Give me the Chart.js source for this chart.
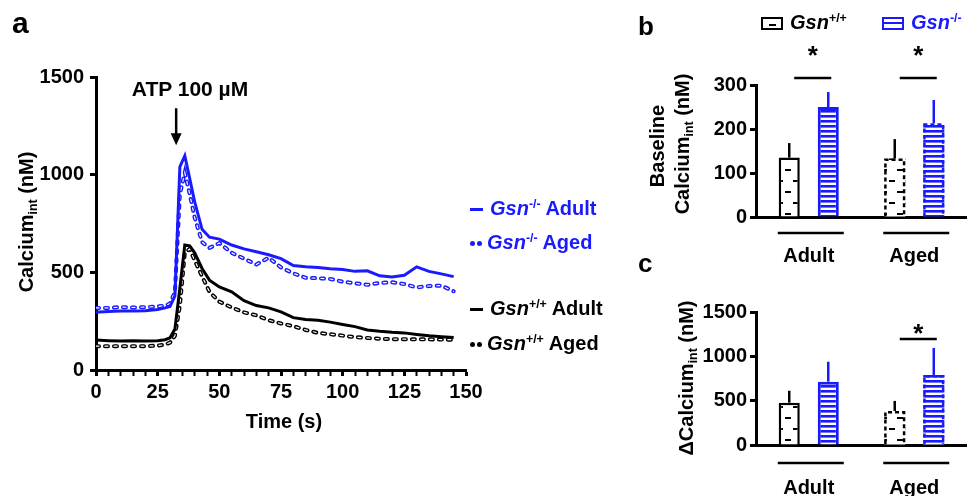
<!DOCTYPE html>
<html>
<head>
<meta charset="utf-8">
<script src="https://cdn.jsdelivr.net/npm/chart.js@4.4.0/dist/chart.umd.min.js"></script>
<style>
  body { margin: 0; width: 967px; height: 496px; background: #fff; position: relative; overflow: hidden;
         font-family: "Liberation Sans", Arial, sans-serif; font-weight: bold; color: #000; }
  canvas { position: absolute; }
  .t { position: absolute; white-space: nowrap; font-size: 20px; line-height: 1; }
  .c { transform: translate(-50%, -50%); }
  .v { transform: translate(0, -50%); }
  .rot { transform: translate(-50%, -50%) rotate(-90deg); }
  sub { font-size: 0.62em; vertical-align: -0.3em; line-height: 0; }
  sup { font-size: 0.62em; vertical-align: 0.6em; line-height: 0; }
  .blue { color: #1a1aff; }
  .ln { display: inline-block; width: 13px; height: 3px; vertical-align: middle; margin-right: 7px; }
  .dt { display: inline-block; width: 5px; height: 5px; border-radius: 50%; vertical-align: middle; margin-right: 2px; }
  .box { display: inline-block; box-sizing: border-box; width: 22px; height: 13px; vertical-align: middle; margin-right: 7px; }
</style>
</head>
<body>
<canvas id="ca" width="490" height="440" style="left:0;top:0"></canvas>
<canvas id="cb" width="327" height="270" style="left:640px;top:0"></canvas>
<canvas id="cc" width="327" height="226" style="left:640px;top:270px"></canvas>

<div class="t" style="left:12px;top:8px;font-size:30px">a</div>
<div class="t" style="left:638px;top:13px;font-size:26px">b</div>
<div class="t" style="left:638px;top:250px;font-size:26px">c</div>

<div class="t c" style="left:190px;top:88px;font-size:21px">ATP 100 µM</div>
<div class="t c" style="left:284px;top:421px">Time (s)</div>
<div class="t rot" style="left:26px;top:222px">Calcium<sub>int</sub> (nM)</div>

<div class="t v blue" style="left:470px;top:208px"><span class="ln" style="background:#1a1aff"></span><i>Gsn</i><sup>-/-</sup> Adult</div>
<div class="t v blue" style="left:470px;top:242px"><span class="dt" style="background:#1a1aff"></span><span class="dt" style="background:#1a1aff;margin-right:5px"></span><i>Gsn</i><sup>-/-</sup> Aged</div>
<div class="t v" style="left:470px;top:308px"><span class="ln" style="background:#000"></span><i>Gsn</i><sup>+/+</sup> Adult</div>
<div class="t v" style="left:470px;top:343px"><span class="dt" style="background:#000"></span><span class="dt" style="background:#000;margin-right:5px"></span><i>Gsn</i><sup>+/+</sup> Aged</div>

<div class="t v" style="left:761px;top:22px"><span class="box" style="border:2px solid #000;background:linear-gradient(#fff 0 5px,#000 5px 7px,#fff 7px) 6px 0/7px 100% no-repeat"></span><i>Gsn</i><sup>+/+</sup></div>
<div class="t v blue" style="left:882px;top:22px"><span class="box" style="border:2.5px solid #1a1aff;background:linear-gradient(#fff 0 3px,#1a1aff 3px 5.5px,#fff 5.5px)"></span><i>Gsn</i><sup>-/-</sup></div>

<div class="t rot" style="left:657px;top:146px">Baseline</div>
<div class="t rot" style="left:682px;top:144px">Calcium<sub>int</sub> (nM)</div>
<div class="t rot" style="left:686px;top:378px">ΔCalcium<sub>int</sub> (nM)</div>

<script>
// panel a: time course (s) and calcium (nM)
const times   = [0, 5, 10, 15, 20, 25, 28, 30, 32, 34, 36, 38, 40, 43, 46, 50, 55, 60, 65, 70, 75, 80, 85, 90, 95, 100, 105, 110, 115, 120, 125, 130, 135, 140, 145];
const koAdult = [296, 300, 302, 302, 303, 310, 318, 325, 380, 1040, 1097, 980, 860, 720, 680, 670, 640, 620, 605, 590, 570, 535, 528, 525, 518, 515, 505, 508, 482, 476, 485, 528, 505, 492, 478];
const koAged  = [318, 318, 322, 320, 322, 325, 330, 340, 400, 900, 1010, 900, 780, 655, 625, 650, 600, 570, 540, 575, 525, 495, 472, 470, 466, 452, 444, 436, 446, 449, 440, 423, 430, 432, 403];
const wtAdult = [153, 150, 148, 150, 148, 150, 155, 165, 210, 420, 640, 635, 600, 520, 460, 425, 400, 355, 330, 318, 298, 268, 258, 255, 245, 233, 222, 205, 198, 193, 190, 182, 175, 170, 166];
const wtAged  = [122, 122, 122, 122, 122, 125, 130, 140, 175, 330, 600, 620, 560, 480, 400, 350, 320, 295, 280, 255, 238, 224, 205, 190, 183, 176, 168, 164, 160, 158, 158, 157, 157, 156, 155];

// panels b and c: bar means and SEM
const groups      = ['Adult', 'Aged'];
const baseWt      = [135, 133];
const baseKo      = [250, 213];
const baseWtSem   = [33, 44];
const baseKoSem   = [34, 53];
const deltaWt     = [477, 384];
const deltaKo     = [714, 790];
const deltaWtSem  = [135, 113];
const deltaKoSem  = [225, 305];

const BLUE = '#1a1aff';
const FONT = { family: '"Liberation Sans", Arial, sans-serif', size: 20, weight: 'bold' };

const pts = arr => times.map((t, i) => ({ x: t, y: arr[i] }));

const arrowPlugin = {
  id: 'arrow',
  afterDraw(chart) {
    const { ctx, scales: { x, y } } = chart;
    const px = x.getPixelForValue(32.5);
    const y0 = y.getPixelForValue(1340), y1 = y.getPixelForValue(1150);
    ctx.save();
    ctx.strokeStyle = '#000'; ctx.fillStyle = '#000'; ctx.lineWidth = 2.5;
    ctx.beginPath(); ctx.moveTo(px, y0); ctx.lineTo(px, y1 - 10); ctx.stroke();
    ctx.beginPath(); ctx.moveTo(px - 5.5, y1 - 12); ctx.lineTo(px + 5.5, y1 - 12); ctx.lineTo(px, y1); ctx.closePath(); ctx.fill();
    ctx.restore();
  }
};

new Chart(document.getElementById('ca'), {
  type: 'line',
  data: {
    datasets: [
      { data: pts(koAdult), borderColor: BLUE, borderWidth: 3 },
      { data: pts(wtAdult), borderColor: '#000', borderWidth: 3 },
      { data: pts(koAged), borderColor: '#fff', borderWidth: 1.2, borderDash: [3, 6], borderCapStyle: 'round' },
      { data: pts(koAged), borderColor: BLUE, borderWidth: 4, borderDash: [3, 6], borderCapStyle: 'round' },
      { data: pts(wtAged), borderColor: '#fff', borderWidth: 1.2, borderDash: [3, 6], borderCapStyle: 'round' },
      { data: pts(wtAged), borderColor: '#000', borderWidth: 4, borderDash: [3, 6], borderCapStyle: 'round' }
    ]
  },
  options: {
    responsive: false, animation: false,
    layout: { padding: { top: 77, right: 24, left: 0, bottom: 0 } },
    plugins: { legend: { display: false }, tooltip: { enabled: false } },
    elements: { point: { radius: 0 }, line: { tension: 0 } },
    scales: {
      x: {
        type: 'linear', min: 0, max: 150,
        afterFit: s => { s.height = 70; },
        ticks: { stepSize: 5, autoSkip: false, maxRotation: 0, color: '#000', font: FONT, padding: 4,
                 callback: v => (v % 25 === 0 ? String(v) : '') },
        grid: { drawOnChartArea: false, tickLength: 6, tickColor: '#000',
                tickWidth: c => (c.tick && c.tick.value % 25 === 0 ? 3 : 2) },
        border: { width: 3, color: '#000' }
      },
      y: {
        min: 0, max: 1500,
        afterFit: s => { s.width = 96; },
        ticks: { stepSize: 500, color: '#000', font: FONT, padding: 6, callback: v => String(v) },
        grid: { drawOnChartArea: false, tickLength: 6, tickWidth: 3, tickColor: '#000' },
        border: { width: 3, color: '#000' }
      }
    }
  },
  plugins: [arrowPlugin]
});

function stripePattern() {
  const c = document.createElement('canvas'); c.width = 6; c.height = 5;
  const g = c.getContext('2d');
  g.fillStyle = '#fff'; g.fillRect(0, 0, 6, 5);
  g.fillStyle = BLUE; g.fillRect(0, 0, 6, 2.6);
  return g.createPattern(c, 'repeat');
}
function dashPattern() {
  const c = document.createElement('canvas'); c.width = 16; c.height = 22;
  const g = c.getContext('2d');
  g.fillStyle = '#fff'; g.fillRect(0, 0, 16, 22);
  g.fillStyle = '#000'; g.fillRect(9, 4, 6, 2); g.fillRect(1, 15, 6, 2);
  return g.createPattern(c, 'repeat');
}

const barExtras = {
  id: 'barExtras',
  afterDraw(chart, args, o) {
    const { ctx, chartArea: ca, scales: { x, y } } = chart;
    ctx.save();
    chart.data.datasets.forEach((ds, di) => {
      chart.getDatasetMeta(di).data.forEach((bar, i) => {
        ctx.strokeStyle = ds.borderColor;
        // error bar
        ctx.lineWidth = 2.5; ctx.setLineDash([]);
        ctx.beginPath(); ctx.moveTo(bar.x, bar.y);
        ctx.lineTo(bar.x, y.getPixelForValue(ds.data[i] + o.sem[di][i])); ctx.stroke();
        // dashed outline for aged bars
        if (i === 1) {
          const l = bar.x - bar.width / 2 + 1.2, r = bar.x + bar.width / 2 - 1.2;
          ctx.lineWidth = 2.5; ctx.setLineDash([4, 3]);
          ctx.beginPath(); ctx.moveTo(l, bar.base); ctx.lineTo(l, bar.y + 1.2); ctx.lineTo(r, bar.y + 1.2); ctx.lineTo(r, bar.base); ctx.stroke();
        }
      });
    });
    ctx.setLineDash([]);
    ctx.strokeStyle = '#000'; ctx.fillStyle = '#000'; ctx.lineWidth = 2.5;
    // group underlines
    groups.forEach((g, i) => {
      const cx = x.getPixelForValue(i) + 2;
      ctx.beginPath(); ctx.moveTo(cx - 33, ca.bottom + o.under); ctx.lineTo(cx + 33, ca.bottom + o.under); ctx.stroke();
    });
    // significance
    ctx.font = 'bold 26px "Liberation Sans", Arial, sans-serif';
    ctx.textAlign = 'center'; ctx.textBaseline = 'alphabetic';
    o.sig.forEach(s => {
      const a = chart.getDatasetMeta(0).data[s.i].x + 5, b = chart.getDatasetMeta(1).data[s.i].x + 3;
      const ly = y.getPixelForValue(s.line);
      ctx.beginPath(); ctx.moveTo(a, ly); ctx.lineTo(b, ly); ctx.stroke();
      ctx.fillText('*', (a + b) / 2, y.getPixelForValue(s.star) + 12);
    });
    ctx.restore();
  }
};

function barChart(id, wt, ko, wtSem, koSem, max, step, top, xh, under, pad, sig) {
  return new Chart(document.getElementById(id), {
    type: 'bar',
    data: {
      labels: groups,
      datasets: [
        { data: wt, backgroundColor: dashPattern(), borderColor: '#000', borderWidth: [2.5, 0], borderSkipped: 'start' },
        { data: ko, backgroundColor: stripePattern(), borderColor: BLUE, borderWidth: [3, 0], borderSkipped: 'start' }
      ]
    },
    options: {
      responsive: false, animation: false,
      categoryPercentage: 0.74, barPercentage: 0.54,
      layout: { padding: { top: top, right: 0, left: 0, bottom: 0 } },
      plugins: { legend: { display: false }, tooltip: { enabled: false },
                 barExtras: { sem: [wtSem, koSem], under: under, sig: sig } },
      scales: {
        x: {
          afterFit: s => { s.height = xh; s.paddingLeft = 0; s.paddingRight = 0; },
          ticks: { color: '#000', font: FONT, padding: pad },
          grid: { display: true, drawOnChartArea: false, drawTicks: false },
          border: { width: 3, color: '#000' }
        },
        y: {
          min: 0, max: max,
          afterFit: s => { s.width = 116; },
          ticks: { stepSize: step, color: '#000', font: FONT, padding: 3, callback: v => String(v) },
          grid: { drawOnChartArea: false, tickLength: 6, tickWidth: 3, tickColor: '#000' },
          border: { width: 3, color: '#000' }
        }
      }
    },
    plugins: [barExtras]
  });
}

barChart('cb', baseWt, baseKo, baseWtSem, baseKoSem, 300, 100, 85, 53, 16, 27,
         [{ i: 0, line: 316, star: 375 }, { i: 1, line: 316, star: 375 }]);
barChart('cc', deltaWt, deltaKo, deltaWtSem, deltaKoSem, 1500, 500, 42, 51, 18, 31,
         [{ i: 1, line: 1195, star: 1296 }]);
</script>
</body>
</html>
